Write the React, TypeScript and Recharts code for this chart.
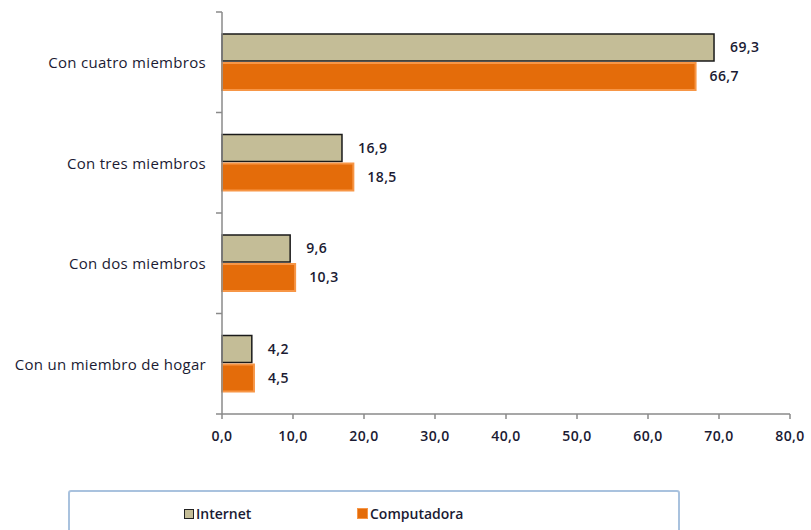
import React from "react";
import { BarChart, Bar, XAxis, YAxis, LabelList, Legend } from "recharts";

// Household groups, listed top to bottom
const categories = [
  "Con cuatro miembros",
  "Con tres miembros",
  "Con dos miembros",
  "Con un miembro de hogar",
];
const internetValues = [69.3, 16.9, 9.6, 4.2];
const computadoraValues = [66.7, 18.5, 10.3, 4.5];
const xTicks = [0, 10, 20, 30, 40, 50, 60, 70, 80];

const data = categories.map((name, i) => ({
  name,
  internet: internetValues[i],
  computadora: computadoraValues[i],
}));

const FONT = "'Open Sans', 'DejaVu Sans', sans-serif";
const TEXT = "#1b1b33";
const AXIS = "#8a8a8a";
const TAN = "#c4bd97";
const ORANGE = "#e46c0a";
const ORANGE_EDGE = "#f79646";

const fmt = (v: number) => v.toFixed(1).replace(".", ",");

const PLOT_TOP = 12;
const PLOT_BOTTOM = 414;
const BAND = (PLOT_BOTTOM - PLOT_TOP) / categories.length;

// Category label plus boundary tick marks between bands
const CategoryTick = (props: any) => {
  const { x, y, payload, index } = props;
  const axisX = x;
  const top = y - BAND / 2;
  const bottom = y + BAND / 2;
  return (
    <g>
      <line x1={axisX - 6} x2={axisX} y1={top} y2={top} stroke={AXIS} strokeWidth={1.5} />
      {index === categories.length - 1 && (
        <line x1={axisX - 6} x2={axisX} y1={bottom} y2={bottom} stroke={AXIS} strokeWidth={1.5} />
      )}
      <text
        x={axisX - 16}
        y={y}
        textAnchor="end"
        dominantBaseline="central"
        fontFamily={FONT}
        fontSize={15}
        fontWeight={500}
        letterSpacing={0.3}
        fill={TEXT}
      >
        {payload.value}
      </text>
    </g>
  );
};

const LegendBox = () => (
  <div
    style={{
      boxSizing: "border-box",
      width: 612,
      height: 48,
      border: "2px solid #a9c2de",
      borderRadius: 3,
      background: "#fff",
      position: "relative",
      fontFamily: FONT,
      fontSize: 14,
      fontWeight: 600,
      color: TEXT,
    }}
  >
    <div style={{ position: "absolute", left: 114, top: 12, display: "flex", alignItems: "center" }}>
      <span
        style={{
          display: "inline-block",
          width: 8,
          height: 8,
          background: TAN,
          border: "1.5px solid #222",
          marginRight: 2,
        }}
      />
      <span>Internet</span>
    </div>
    <div style={{ position: "absolute", left: 287, top: 12, display: "flex", alignItems: "center" }}>
      <span
        style={{
          display: "inline-block",
          width: 9,
          height: 9,
          background: ORANGE,
          border: `1.5px solid ${ORANGE_EDGE}`,
          marginRight: 2,
        }}
      />
      <span>Computadora</span>
    </div>
  </div>
);

const valueStyle = { fontFamily: FONT, fontSize: 14, fontWeight: 600, fill: TEXT, letterSpacing: 0.4 };

export default function App() {
  return (
    <div style={{ position: "absolute", left: 0, top: 0, width: 811, height: 530, background: "#fff", overflow: "hidden" }}>
      <BarChart
        width={811}
        height={530}
        data={data}
        layout="vertical"
        margin={{ top: PLOT_TOP, right: 21, left: 0, bottom: 38 }}
        barSize={27}
        barGap={2}
      >
        <XAxis
          type="number"
          domain={[0, 80]}
          ticks={xTicks}
          interval={0}
          tickFormatter={fmt}
          axisLine={{ stroke: AXIS, strokeWidth: 1.5 }}
          tickLine={{ stroke: AXIS, strokeWidth: 1.5 }}
          tickSize={5}
          tickMargin={12}
          height={30}
          tick={{ fontFamily: FONT, fontSize: 14, fontWeight: 600, fill: TEXT, letterSpacing: 0.4 }}
        />
        <YAxis
          type="category"
          dataKey="name"
          width={222}
          axisLine={{ stroke: AXIS, strokeWidth: 1.5 }}
          tickLine={false}
          tickMargin={0}
          tickSize={0}
          tick={<CategoryTick />}
        />
        <Legend
          verticalAlign="bottom"
          content={<LegendBox />}
          wrapperStyle={{ position: "absolute", left: 68, top: 490, width: 612, height: 48 }}
        />
        <Bar
          dataKey="internet"
          name="Internet"
          fill={TAN}
          stroke="#1a1a1a"
          strokeWidth={1.5}
          isAnimationActive={false}
        >
          <LabelList
            dataKey="internet"
            position="right"
            offset={16}
            formatter={(v: any) => fmt(Number(v))}
            style={valueStyle}
          />
        </Bar>
        <Bar
          dataKey="computadora"
          name="Computadora"
          fill={ORANGE}
          stroke={ORANGE_EDGE}
          strokeWidth={2}
          isAnimationActive={false}
        >
          <LabelList
            dataKey="computadora"
            position="right"
            offset={14}
            formatter={(v: any) => fmt(Number(v))}
            style={valueStyle}
          />
        </Bar>
      </BarChart>
    </div>
  );
}
